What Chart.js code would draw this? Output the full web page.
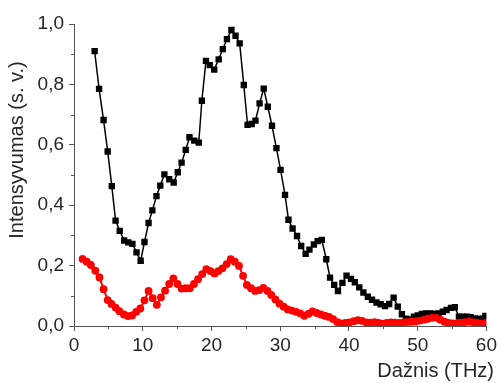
<!DOCTYPE html>
<html>
<head>
<meta charset="utf-8">
<script src="https://cdn.jsdelivr.net/npm/chart.js@4/dist/chart.umd.min.js"></script>
<style>
  body { margin: 0; background: #fff; }
  #wrap { width: 500px; height: 383px; }
</style>
</head>
<body>
<div id="wrap"><canvas id="spectrum" width="500" height="383"></canvas></div>
<script>
// --- data
var blackX = [3.0, 3.65, 4.3, 4.9, 5.5, 6.05, 6.65, 7.3, 7.9, 8.5, 9.1, 9.7, 10.25, 10.85, 11.4, 12.0, 12.55, 13.15, 13.85, 14.5,
    15.1, 15.65, 16.25, 16.8, 17.5, 18.15, 18.6, 19.2, 19.75, 20.4, 21.05, 21.65, 22.25, 22.9, 23.5, 24.1, 24.7, 25.25, 25.85, 26.4,
    27.0, 27.6, 28.2, 28.8, 29.45, 30.05, 30.7, 31.2, 31.8, 32.45, 33.05, 33.7, 34.25, 34.9, 35.45, 36.05, 36.7, 37.25, 37.85, 38.4,
    39.05, 39.65, 40.3, 40.85, 41.5, 42.1, 42.75, 43.35, 44.0, 44.6, 45.25, 45.85, 46.5, 47.1, 47.7, 48.3, 48.85, 49.45, 50.0, 50.6,
    51.2, 51.85, 52.45, 53.0, 53.65, 54.2, 54.85, 55.4, 56.0, 56.55, 57.15, 57.7, 58.3, 58.9, 59.45, 59.85];
var blackY = [0.91, 0.785, 0.682, 0.578, 0.463, 0.349, 0.315, 0.283, 0.277, 0.272, 0.244, 0.216, 0.278, 0.341, 0.383, 0.43, 0.465, 0.502, 0.486, 0.475,
    0.509, 0.541, 0.583, 0.625, 0.614, 0.607, 0.746, 0.878, 0.864, 0.849, 0.883, 0.917, 0.95, 0.98, 0.961, 0.936, 0.798, 0.666, 0.669, 0.68,
    0.737, 0.786, 0.726, 0.663, 0.589, 0.517, 0.434, 0.352, 0.323, 0.298, 0.265, 0.239, 0.253, 0.27, 0.281, 0.285, 0.221, 0.16, 0.136, 0.116,
    0.143, 0.167, 0.156, 0.145, 0.128, 0.111, 0.097, 0.087, 0.078, 0.072, 0.066, 0.073, 0.094, 0.064, 0.039, 0.024, 0.022, 0.031, 0.035, 0.04,
    0.042, 0.042, 0.04, 0.042, 0.047, 0.053, 0.06, 0.062, 0.031, 0.031, 0.031, 0.029, 0.025, 0.023, 0.024, 0.033];

var redX = [1.25, 1.85, 2.45, 3.1, 3.7, 4.3, 4.9, 5.45, 6.05, 6.6, 7.25, 7.85, 8.45, 9.05, 9.65, 10.25, 10.85, 11.45, 12.05, 12.65,
    13.25, 13.85, 14.45, 15.05, 15.65, 16.25, 16.85, 17.45, 18.05, 18.65, 19.25, 19.85, 20.45, 21.0, 21.6, 22.2, 22.8, 23.4, 24.0, 24.6,
    25.15, 25.75, 26.35, 26.95, 27.55, 28.15, 28.7, 29.3, 29.9, 30.5, 31.1, 31.7, 32.3, 32.9, 33.5, 34.1, 34.7, 35.3, 35.9, 36.5,
    37.1, 37.7, 38.3, 38.9, 39.5, 40.1, 40.7, 41.3, 41.9, 42.5, 43.1, 43.7, 44.3, 44.9, 45.5, 46.1, 46.7, 47.3, 47.9, 48.5,
    49.1, 49.7, 50.3, 50.9, 51.5, 52.1, 52.7, 53.3, 53.9, 54.5, 55.1, 55.7, 56.3, 56.9, 57.5, 58.1, 58.7, 59.3, 59.9];
var redY = [0.222, 0.213, 0.202, 0.183, 0.161, 0.122, 0.086, 0.073, 0.061, 0.049, 0.038, 0.033, 0.035, 0.047, 0.058, 0.085, 0.116, 0.092, 0.07, 0.095,
    0.117, 0.139, 0.158, 0.139, 0.124, 0.125, 0.125, 0.139, 0.155, 0.172, 0.188, 0.182, 0.174, 0.182, 0.191, 0.205, 0.221, 0.213, 0.199, 0.166,
    0.136, 0.125, 0.116, 0.119, 0.126, 0.116, 0.103, 0.088, 0.074, 0.064, 0.055, 0.051, 0.047, 0.042, 0.034, 0.04, 0.048, 0.043, 0.038, 0.034,
    0.03, 0.023, 0.013, 0.009, 0.01, 0.012, 0.016, 0.019, 0.017, 0.012, 0.011, 0.013, 0.01, 0.008, 0.01, 0.012, 0.011, 0.01, 0.012, 0.013,
    0.014, 0.015, 0.018, 0.021, 0.024, 0.027, 0.027, 0.021, 0.014, 0.01, 0.009, 0.009, 0.011, 0.013, 0.014, 0.012, 0.01, 0.009, 0.01];

var xTitle = 'Dažnis (THz)';
var yTitle = 'Intensyvumas (s. v.)';
var xMinorTicks = [5, 15, 25, 35, 45, 55];
var yMinorTicks = [0.1, 0.3, 0.5, 0.7, 0.9];

var textColor = '#262626';
var axisColor = '#555';
var fontFamily = 'Arial, "Liberation Sans", sans-serif';

function toPoints(xs, ys) {
    return xs.map(function (x, i) { return { x: x, y: ys[i] }; });
}

// minor ticks + axis titles drawn by hand
var extras = {
    id: 'extras',
    afterDraw: function (chart) {
        var ctx = chart.ctx;
        var xs = chart.scales.x, ys = chart.scales.y;
        var area = chart.chartArea;
        ctx.save();
        ctx.strokeStyle = axisColor;
        ctx.lineWidth = 1;
        ctx.beginPath();
        xMinorTicks.forEach(function (v) {
            var p = Math.round(xs.getPixelForValue(v)) + 0.5;
            ctx.moveTo(p, area.bottom);
            ctx.lineTo(p, area.bottom + 3);
        });
        yMinorTicks.forEach(function (v) {
            var p = Math.round(ys.getPixelForValue(v)) + 0.5;
            ctx.moveTo(area.left, p);
            ctx.lineTo(area.left - 3, p);
        });
        ctx.stroke();

        ctx.fillStyle = textColor;
        ctx.font = '20px ' + fontFamily;
        ctx.textAlign = 'right';
        ctx.textBaseline = 'middle';
        ctx.fillText(xTitle, 494, 371);

        ctx.translate(17, 150);
        ctx.rotate(-Math.PI / 2);
        ctx.textAlign = 'center';
        ctx.fillText(yTitle, 0, 0);
        ctx.restore();
    }
};

var ctx = document.getElementById('spectrum');
new Chart(ctx, {
    type: 'line',
    data: {
        datasets: [{
            label: 'red',
            data: toPoints(redX, redY),
            borderColor: '#ff0000',
            backgroundColor: '#ff0000',
            borderWidth: 2,
            pointStyle: 'circle',
            pointRadius: 3.9,
            pointBorderWidth: 0
        }, {
            label: 'black',
            data: toPoints(blackX, blackY),
            borderColor: '#000',
            backgroundColor: '#000',
            borderWidth: 1.5,
            pointStyle: 'rect',
            pointRadius: 4.5,
            pointBorderWidth: 0
        }]
    },
    options: {
        responsive: false,
        animation: false,
        layout: { padding: { top: 24, right: 11, bottom: 0, left: 0 } },
        plugins: {
            legend: { display: false },
            tooltip: { enabled: false }
        },
        scales: {
            x: {
                type: 'linear',
                min: 0,
                max: 60,
                afterFit: function (s) { s.height = 57; },
                border: { color: axisColor, width: 1 },
                grid: { drawOnChartArea: false, color: axisColor, tickLength: 5 },
                ticks: {
                    stepSize: 10,
                    padding: 3,
                    color: textColor,
                    font: { size: 19, family: fontFamily },
                    maxRotation: 0
                }
            },
            y: {
                min: 0,
                max: 1,
                afterFit: function (s) { s.width = 74; },
                border: { color: axisColor, width: 1 },
                grid: { drawOnChartArea: false, color: axisColor, tickLength: 5 },
                ticks: {
                    stepSize: 0.2,
                    padding: 5,
                    color: textColor,
                    font: { size: 19, family: fontFamily },
                    callback: function (v) { return v.toFixed(1).replace('.', ','); }
                }
            }
        }
    },
    plugins: [extras]
});
</script>
</body>
</html>
